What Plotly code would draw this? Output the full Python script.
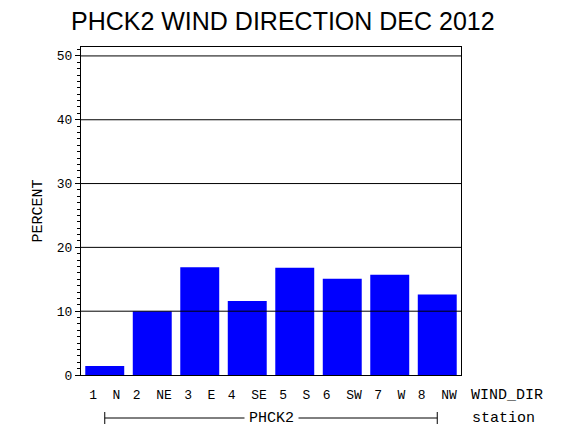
import plotly.graph_objects as go

# wind direction frequency for PHCK2, december 2012
directions = ["1  N", "2  NE", "3  E", "4  SE", "5  S", "6  SW", "7  W", "8  NW"]
percent = [1.4, 10.0, 16.9, 11.6, 16.8, 15.1, 15.7, 12.6]
grid_values = [10, 20, 30, 40, 50]
station = "PHCK2"

TICK_FONT = {"family": "Liberation Mono", "size": 13, "color": "black"}
LABEL_FONT = {"family": "Liberation Mono", "size": 15, "color": "black"}
# the page body adds an 8px margin, so the figure is drawn 8px smaller
W, H = 562, 422
BRACKET_Y = -43  # pixels below the x axis

fig = go.Figure()
fig.add_trace(
    go.Bar(
        x=directions,
        y=percent,
        marker={"color": "#0000ff", "line": {"width": 0}},
        showlegend=False,
    )
)

# grid lines drawn on top of the bars, like the original
for v in grid_values:
    fig.add_shape(
        type="line",
        xref="paper",
        yref="y",
        x0=0,
        x1=1,
        y0=v,
        y1=v,
        line={"color": "black", "width": 1},
        layer="above",
    )

# station bracket under the category labels
fig.add_shape(
    type="line", xref="x", yref="paper", ysizemode="pixel", yanchor=0,
    x0=0, x1=len(directions) - 1, y0=BRACKET_Y, y1=BRACKET_Y,
    line={"color": "black", "width": 1},
)
for xe in [0, len(directions) - 1]:
    fig.add_shape(
        type="line", xref="x", yref="paper", ysizemode="pixel", yanchor=0,
        x0=xe, x1=xe, y0=BRACKET_Y - 6, y1=BRACKET_Y + 6,
        line={"color": "black", "width": 1},
    )
fig.add_annotation(
    x=(len(directions) - 1) / 2, xref="x", y=0, yref="paper",
    yanchor="middle", yshift=BRACKET_Y,
    text=station, showarrow=False, bgcolor="white", borderpad=4,
    font=LABEL_FONT,
)
fig.add_annotation(
    x=1, xref="paper", y=0, yref="paper", xanchor="left", yanchor="middle",
    xshift=8, yshift=-20, text="WIND_DIR", showarrow=False, font=LABEL_FONT,
)
fig.add_annotation(
    x=1, xref="paper", y=0, yref="paper", xanchor="left", yanchor="middle",
    xshift=9, yshift=BRACKET_Y, text="station", showarrow=False, font=LABEL_FONT,
)

fig.update_layout(
    template="none",
    width=W,
    height=H,
    margin={"l": 73, "r": 109, "t": 39, "b": 55},
    paper_bgcolor="white",
    plot_bgcolor="white",
    bargap=0.18,
    title={
        "text": "PHCK2 WIND DIRECTION DEC 2012",
        "x": 0.489,
        "xanchor": "center",
        "y": 0.968,
        "yanchor": "middle",
        "font": {"family": "Liberation Sans", "size": 25, "color": "black"},
    },
)
fig.update_xaxes(
    showgrid=False,
    showline=True,
    linecolor="black",
    linewidth=1,
    mirror=True,
    ticks="",
    ticklabelstandoff=7,
    tickfont=TICK_FONT,
    fixedrange=True,
)
fig.update_yaxes(
    range=[0, 51.4],
    showgrid=False,
    zeroline=False,
    showline=True,
    linecolor="black",
    linewidth=1,
    mirror=True,
    ticks="outside",
    ticklen=5,
    tickcolor="black",
    dtick=10,
    tickfont=TICK_FONT,
    minor={"dtick": 1, "ticks": "outside", "ticklen": 3, "tickcolor": "black"},
    title={"text": "PERCENT", "font": LABEL_FONT, "standoff": 10},
)

fig.write_html("out.html")
